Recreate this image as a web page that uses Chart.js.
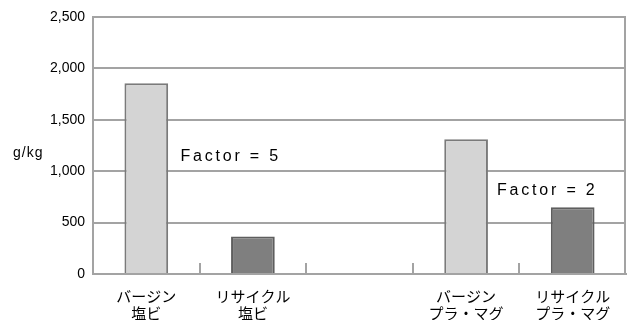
<!DOCTYPE html>
<html>
<head>
<meta charset="utf-8">
<script src="https://cdn.jsdelivr.net/npm/chart.js@4/dist/chart.umd.min.js"></script>
<style>
  html, body { margin: 0; padding: 0; background: #fff; }
  #wrap { width: 629px; height: 320px; }
</style>
</head>
<body>
<div id="wrap"><canvas id="c" width="629" height="320"></canvas></div>
<script>
"use strict";

// categorias (a terceira fica vazia, como no original)
const CATEGORIAS = [["バージン", "塩ビ"], ["リサイクル", "塩ビ"], "", ["バージン", "プラ・マグ"], ["リサイクル", "プラ・マグ"]];
const VALORES = [1855, 365, null, 1310, 650];
const Y_TICKS = [0, 500, 1000, 1500, 2000, 2500];
const UNIDADE = "g/kg";
const NOTAS = ["Factor = 5", "Factor = 2"];
const NOTAS_X = [0.32, 3.29];    // índice de categoria
const NOTAS_Y = [1140, 815];     // valor no eixo y

const CLARO = "#d4d4d4", ESCURO = "#7f7f7f";
const GRADE = "#a3a3a3";

// escreve texto com espaçamento entre letras
function textoEspacado(ctx, txt, x, y, esp) {
  for (const ch of txt) {
    ctx.fillText(ch, x, y);
    x += ctx.measureText(ch).width + esp;
  }
}

const extras = {
  id: "extras",
  afterDatasetsDraw(chart) {
    const { ctx, chartArea: a, scales } = chart;
    const x = scales.x;
    ctx.save();
    // borda direita
    ctx.strokeStyle = GRADE;
    ctx.lineWidth = 2;
    ctx.beginPath();
    ctx.moveTo(a.right - 1, a.top);
    ctx.lineTo(a.right - 1, a.bottom);
    ctx.stroke();
    // marcas curtas entre categorias
    const larg = x.getPixelForValue(1) - x.getPixelForValue(0);
    for (let i = 1; i < CATEGORIAS.length; i++) {
      const px = Math.round(x.getPixelForValue(i) - larg / 2);
      ctx.beginPath();
      ctx.moveTo(px, a.bottom);
      ctx.lineTo(px, a.bottom - 11);
      ctx.stroke();
    }
    // notas "Factor"
    ctx.fillStyle = "#000";
    ctx.font = "16px 'Liberation Sans', Arial, sans-serif";
    ctx.textBaseline = "middle";
    NOTAS.forEach((t, i) => {
      textoEspacado(ctx, t, x.getPixelForValue(NOTAS_X[i]), scales.y.getPixelForValue(NOTAS_Y[i]), 2.8);
    });
    // unidade do eixo y
    ctx.font = "14px 'Liberation Sans', Arial, sans-serif";
    textoEspacado(ctx, UNIDADE, 13, 153, 1);
    ctx.restore();
  },
};

new Chart(document.getElementById("c"), {
  type: "bar",
  data: {
    labels: CATEGORIAS,
    datasets: [{
      data: VALORES,
      backgroundColor: [CLARO, ESCURO, CLARO, CLARO, ESCURO],
      borderColor: ["#7a7a7a", "#5e5e5e", "#7a7a7a", "#7a7a7a", "#5e5e5e"],
      borderWidth: 2,
      borderSkipped: "bottom",
      categoryPercentage: 1,
      barPercentage: 0.41,
    }],
  },
  options: {
    responsive: false,
    animation: false,
    devicePixelRatio: 1,
    layout: { padding: { top: 17, right: 3, left: 0, bottom: 0 } },
    plugins: { legend: { display: false }, tooltip: { enabled: false } },
    scales: {
      x: {
        grid: { display: false, drawTicks: false },
        border: { color: GRADE, width: 2 },
        ticks: {
          color: "#000",
          padding: 14,
          maxRotation: 0,
          autoSkip: false,
          font: { family: "'Noto Sans CJK JP', sans-serif", size: 15, lineHeight: 1.13 },
        },
        afterFit: (s) => { s.height = 46; },
      },
      y: {
        min: 0,
        max: 2500,
        afterBuildTicks: (s) => { s.ticks = Y_TICKS.map((v) => ({ value: v })); },
        grid: { color: GRADE, lineWidth: 2, drawTicks: false },
        border: { color: GRADE, width: 2 },
        ticks: {
          color: "#000",
          padding: 8,
          font: { family: "'Liberation Sans', Arial, sans-serif", size: 14 },
          callback: (v) => v.toLocaleString("en-US"),
        },
        afterFit: (s) => { s.width = 93; },
      },
    },
  },
  plugins: [extras],
});
</script>
</body>
</html>
